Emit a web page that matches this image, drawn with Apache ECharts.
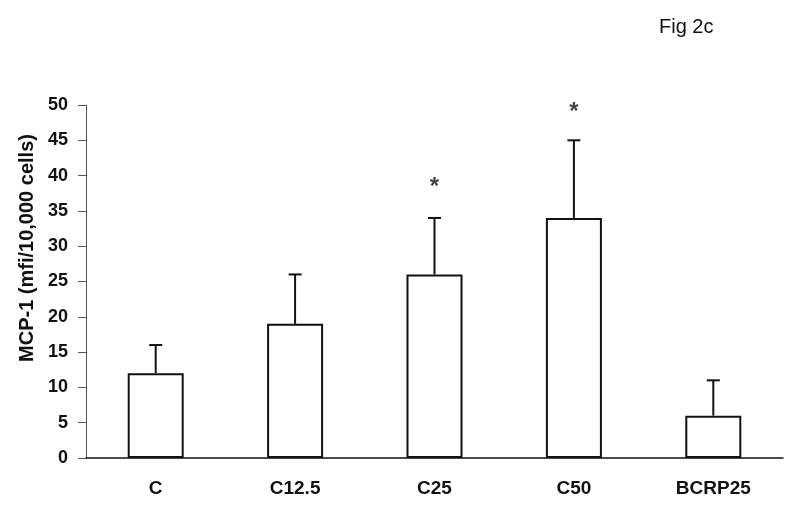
<!DOCTYPE html>
<html>
<head>
<meta charset="utf-8">
<script src="https://cdn.jsdelivr.net/npm/echarts@6/dist/echarts.min.js"></script>
<style>
  html, body { margin: 0; padding: 0; background: #fff; }
  #chart { width: 800px; height: 511px; }
</style>
</head>
<body>
<div id="chart"></div>
<script>
const categories = ['C', 'C12.5', 'C25', 'C50', 'BCRP25'];
const means = [12, 19, 26, 34, 6];
const upperErr = [16, 26, 34, 45, 11];
// where the significance stars sit (value units)
const starAt = [null, null, 38.3, 49.0, null];
const yTicks = [0, 5, 10, 15, 20, 25, 30, 35, 40, 45, 50];

const font = 'Arial, "Liberation Sans", sans-serif';
const chart = echarts.init(document.getElementById('chart'));

chart.setOption({
  animation: false,
  backgroundColor: '#fff',
  title: {
    text: 'Fig 2c',
    left: 654, top: 12,
    textStyle: { fontFamily: font, fontSize: 20, fontWeight: 'normal', color: '#111' }
  },
  graphic: [{
    type: 'text',
    x: 27, y: 248,
    rotation: Math.PI / 2,
    style: {
      text: 'MCP-1 (mfi/10,000 cells)',
      font: 'bold 20px ' + font,
      fill: '#111',
      align: 'center',
      verticalAlign: 'middle'
    }
  }],
  grid: { left: 86, right: 17, top: 105, bottom: 53 },
  xAxis: {
    type: 'category',
    data: categories,
    axisLine: { lineStyle: { color: '#111', width: 1.5 } },
    axisTick: { length: 7, lineStyle: { color: '#333' } },
    axisLabel: { margin: 21, color: '#111', fontFamily: font, fontSize: 19, fontWeight: 'bold' }
  },
  yAxis: {
    type: 'value',
    min: yTicks[0], max: yTicks[yTicks.length - 1], interval: 5,
    splitLine: { show: false },
    axisLine: { show: true, lineStyle: { color: '#555', width: 1 } },
    axisTick: { show: true, length: 8, lineStyle: { color: '#555' } },
    axisLabel: { margin: 18, color: '#111', fontFamily: font, fontSize: 18, fontWeight: 'bold' }
  },
  series: [
    {
      type: 'bar',
      data: means,
      barWidth: 56,
      itemStyle: { color: '#fff', borderColor: '#111', borderWidth: 2 },
      z: 2
    },
    {
      type: 'custom',
      data: means.map((m, i) => [i, m, upperErr[i]]),
      renderItem: function (params, api) {
        const base = api.coord([api.value(0), api.value(1)]);
        const top = api.coord([api.value(0), api.value(2)]);
        const cap = 6.5;
        const st = { stroke: '#111', lineWidth: 2 };
        return {
          type: 'group',
          children: [
            { type: 'line', shape: { x1: base[0], y1: base[1], x2: top[0], y2: top[1] }, style: st },
            { type: 'line', shape: { x1: top[0] - cap, y1: top[1], x2: top[0] + cap, y2: top[1] }, style: st }
          ]
        };
      },
      z: 3
    },
    {
      type: 'scatter',
      data: starAt.map((v, i) => (v === null ? null : [i, v])),
      symbolSize: 0,
      label: {
        show: true,
        position: 'inside',
        formatter: '*',
        fontFamily: font,
        fontSize: 24,
        fontWeight: 'bold',
        color: '#111'
      }
    }
  ]
});
</script>
</body>
</html>
